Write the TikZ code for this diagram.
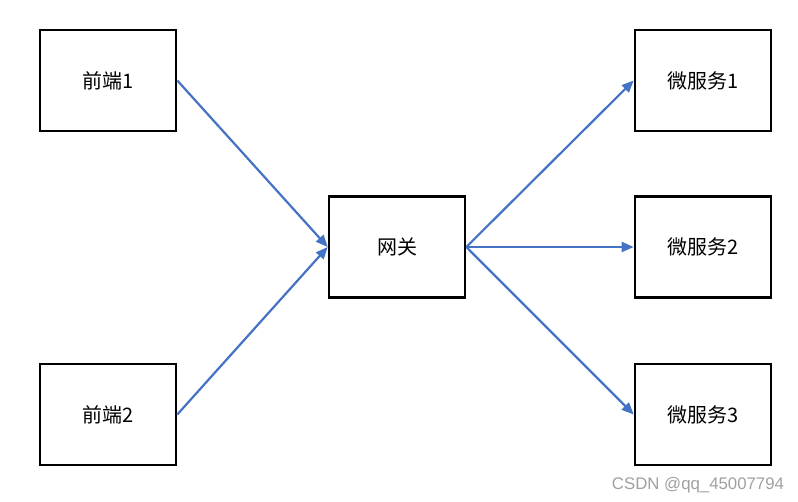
\documentclass[tikz,border=0pt]{standalone}
\usepackage{fontspec}
\setmainfont{Noto Sans CJK SC}
\newfontfamily\markfont{Liberation Sans}
\usepackage{xcolor}
\usetikzlibrary{arrows.meta}
\definecolor{edge}{HTML}{000000}
\definecolor{flow}{HTML}{4472C4}
\definecolor{mark}{HTML}{A0A0A0}
\tikzset{
  box/.style={draw=edge, line width=2.6pt, minimum width=136pt, minimum height=101pt,
    inner sep=0pt, font=\fontsize{20}{24}\selectfont},
  link/.style={draw=flow, line width=2.2pt, -{Triangle[length=12pt,width=10pt]}},
  wm/.style={text=mark, font=\markfont\fontsize{16.8}{20}\selectfont},
}

\begin{document}
\begin{tikzpicture}[x=1pt,y=-1pt]
  \useasboundingbox (0,0) rectangle (798,502);

  \node[box] (fe1) at (108,80.5) {前端1};
  \node[box] (fe2) at (108,414.5) {前端2};
  \node[box] (gw) at (397,247) {网关};
  \node[box] (ms1) at (703,80.5) {微服务1};
  \node[box] (ms2) at (703,247) {微服务2};
  \node[box] (ms3) at (703,414.5) {微服务3};

  \draw[link] (fe1.east) -- (gw.west);
  \draw[link] (fe2.east) -- (gw.west);
  \draw[link] (gw.east) -- (ms1.west);
  \draw[link] (gw.east) -- (ms2.west);
  \draw[link] (gw.east) -- (ms3.west);

  \node[wm] (mark) at (698,485) {CSDN @qq\_45007794};
\end{tikzpicture}
\end{document}
